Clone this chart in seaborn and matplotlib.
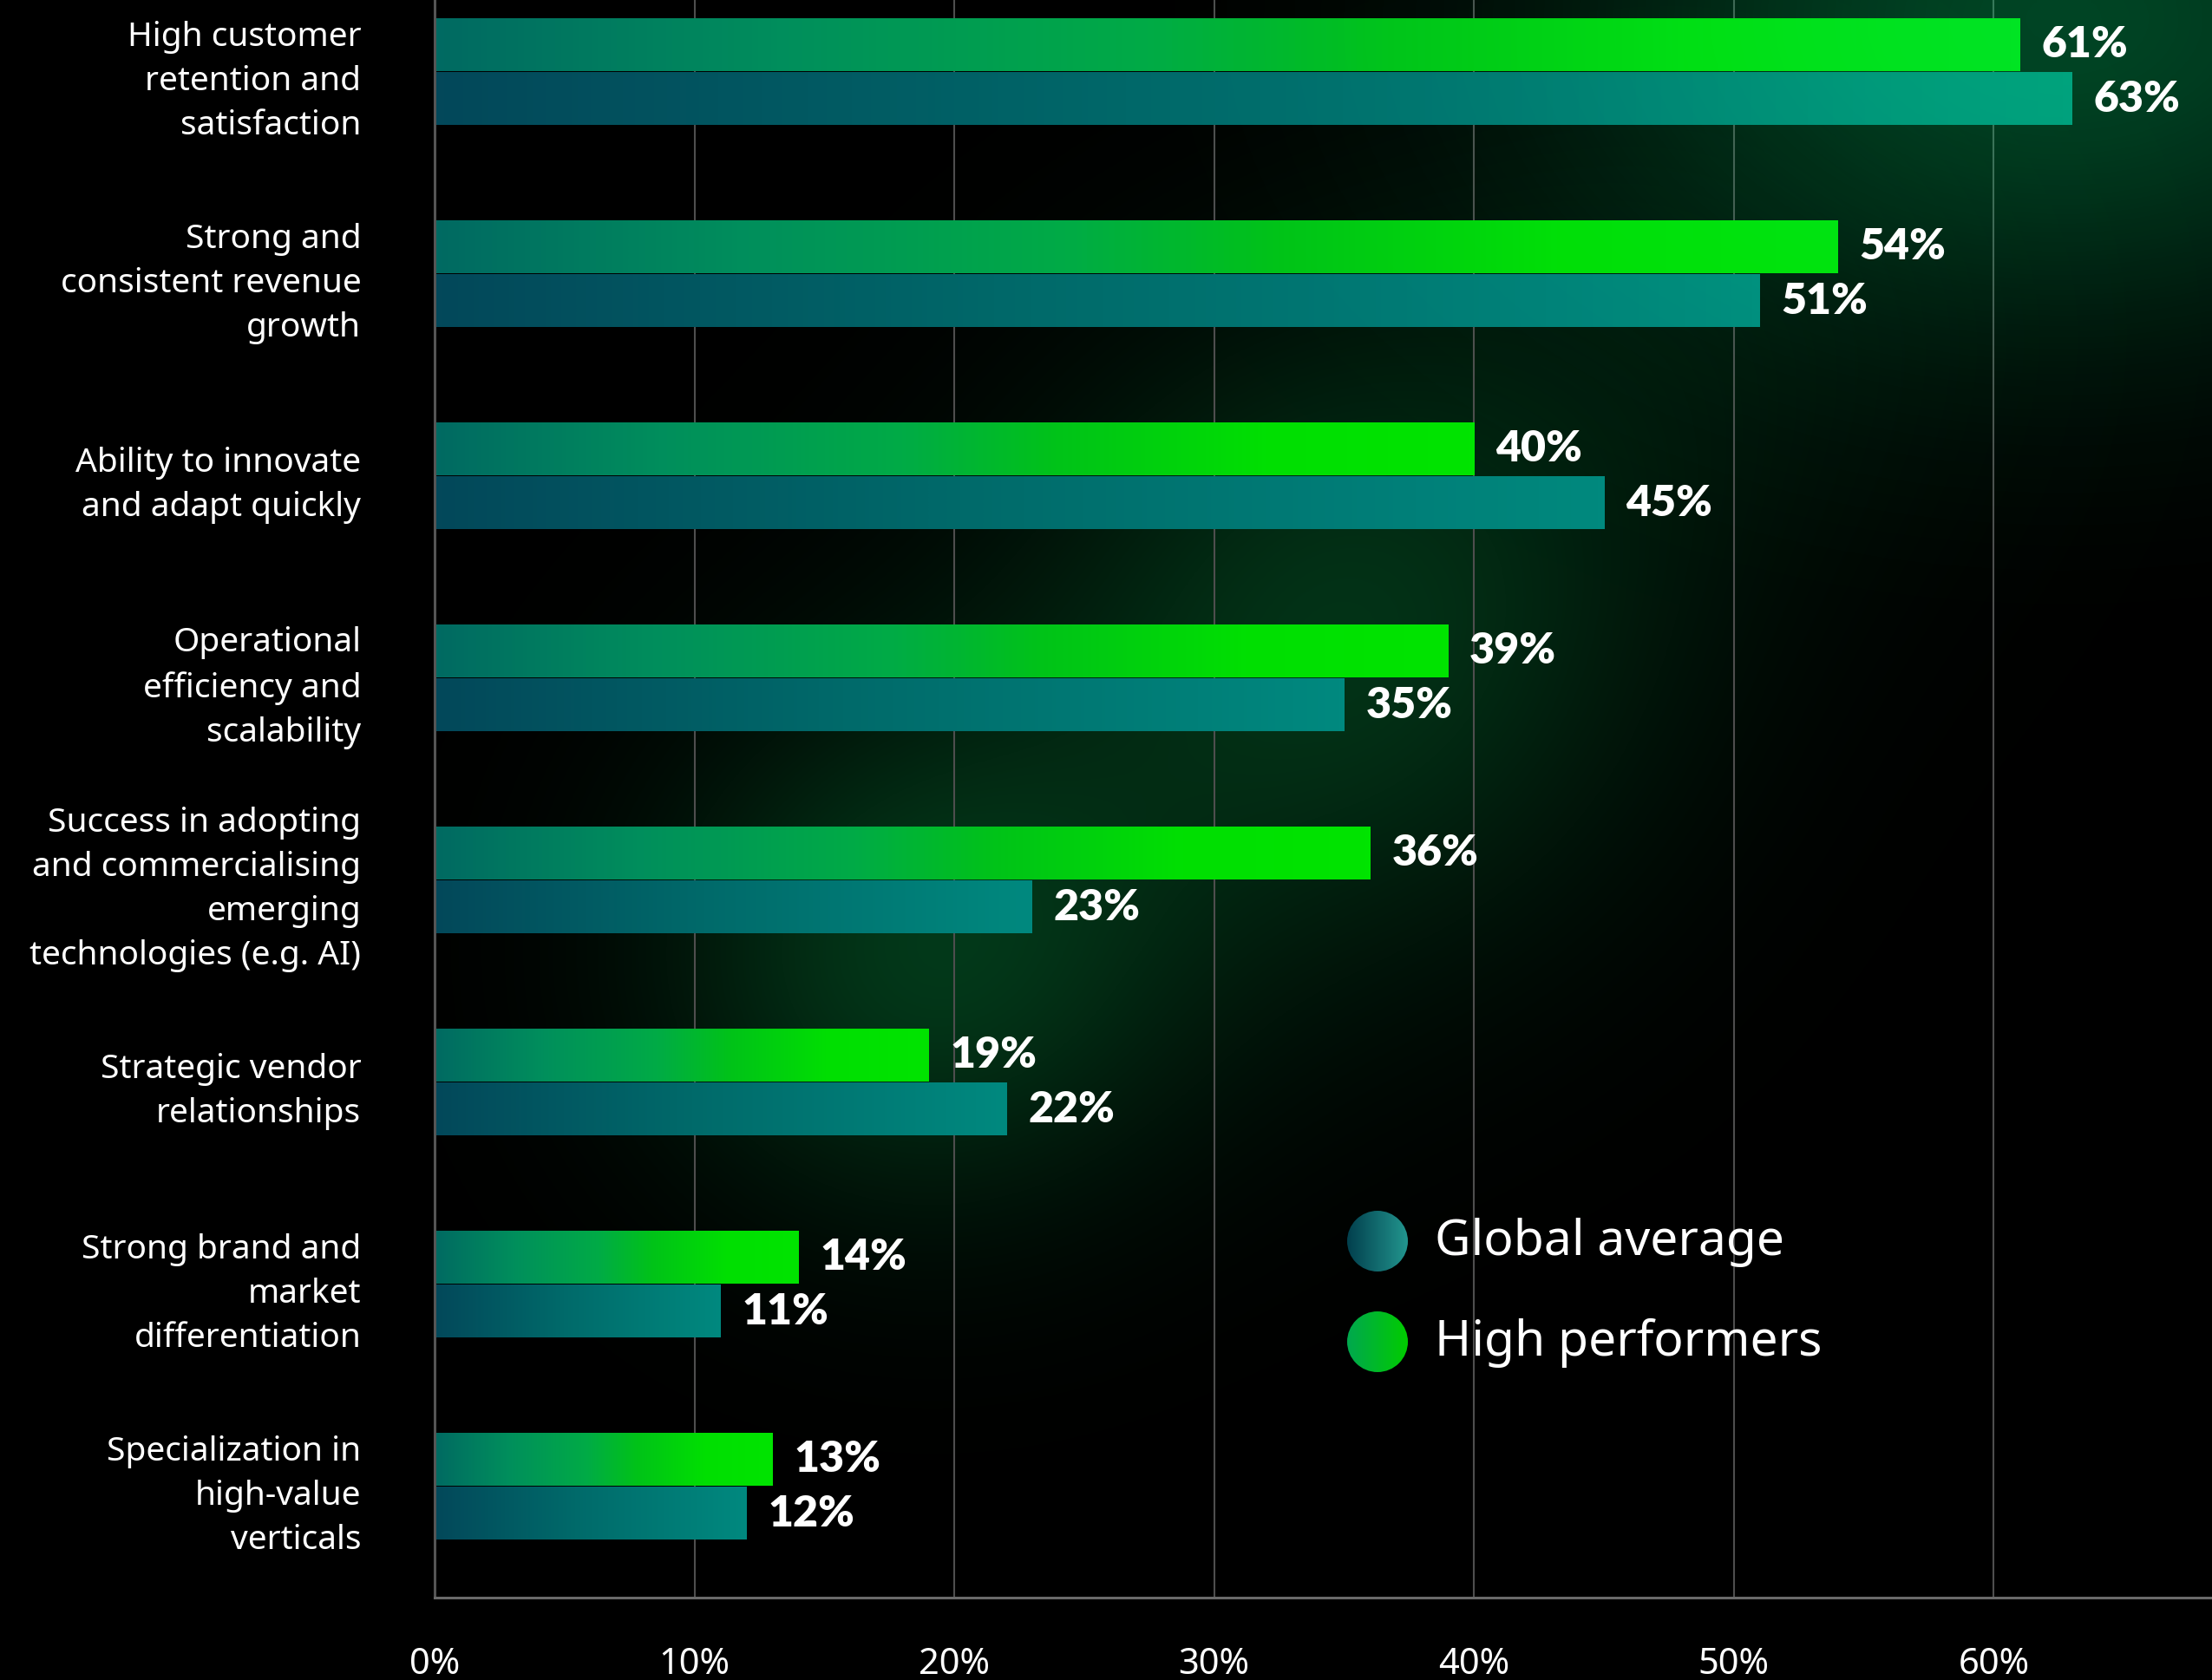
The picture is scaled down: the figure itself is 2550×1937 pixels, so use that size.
import numpy as np
import pandas as pd
import matplotlib
matplotlib.use("Agg")
import matplotlib.pyplot as plt
import seaborn as sns
from matplotlib.colors import LinearSegmentedColormap
from matplotlib.patches import Circle

# ---- data -------------------------------------------------------------
categories = [
    "High customer\nretention and\nsatisfaction",
    "Strong and\nconsistent revenue\ngrowth",
    "Ability to innovate\nand adapt quickly",
    "Operational\nefficiency and\nscalability",
    "Success in adopting\nand commercialising\nemerging\ntechnologies (e.g. AI)",
    "Strategic vendor\nrelationships",
    "Strong brand and\nmarket\ndifferentiation",
    "Specialization in\nhigh-value\nverticals",
]
high_performers = [61, 54, 40, 39, 36, 19, 14, 13]
global_average = [63, 51, 45, 35, 23, 22, 11, 12]
series_names = ["High performers", "Global average"]
x_ticks = [0, 10, 20, 30, 40, 50, 60]
x_tick_labels = [f"{t}%" for t in x_ticks]

df = pd.DataFrame({
    "category": categories * 2,
    "share": high_performers + global_average,
    "series": [series_names[0]] * len(categories) + [series_names[1]] * len(categories),
})

# ---- style ------------------------------------------------------------
sns.set_style("dark")
plt.rcParams["font.family"] = ["Noto Sans", "DejaVu Sans"]
plt.rcParams["axes.unicode_minus"] = False

W, H, DPI = 2550, 1937, 100
fig = plt.figure(figsize=(W / DPI, H / DPI), dpi=DPI, facecolor="black")

ax_left, ax_bottom_px = 501, 1842
ax = fig.add_axes([ax_left / W, (H - ax_bottom_px) / H, 1 - ax_left / W, ax_bottom_px / H])
ax.set_facecolor("black")

green_cmap = LinearSegmentedColormap.from_list(
    "hp", [(0.0, "#006a62"), (0.22, "#008f5c"), (0.45, "#00ab46"),
           (0.6, "#00c318"), (0.8, "#00df02"), (1.0, "#00e400")])
teal_cmap = LinearSegmentedColormap.from_list(
    "ga", [(0.0, "#03485a"), (0.45, "#006a6a"), (1.0, "#00897f")])

sns.barplot(data=df, x="share", y="category", hue="series", order=categories,
            hue_order=series_names, orient="h", ax=ax, width=0.535, gap=0.03,
            palette=["#00c318", "#00897f"], saturation=1, legend=False,
            err_kws={"linewidth": 0})

XMAX = 68.4
YLIM = (7.55, -0.356)

# gradient fill for every bar, drawn inside the bar rectangle
grad = np.linspace(0, 1, 256)[None, :]
for container, cmap in zip(ax.containers, [green_cmap, teal_cmap]):
    for bar in container:
        x0, y0 = bar.get_x(), bar.get_y()
        w, h = bar.get_width(), bar.get_height()
        ax.imshow(grad, cmap=cmap, extent=(x0, x0 + w, y0 + h, y0),
                  aspect="auto", zorder=2, interpolation="bicubic")
        bar.set_visible(False)

# ---- glow -------------------------------------------------------------
gx, gy = np.meshgrid(np.arange(ax_left, W, 4), np.arange(0, ax_bottom_px, 4))


def blob(cx, cy, sx, sy):
    return np.exp(-(((gx - cx) / sx) ** 2 + ((gy - cy) / sy) ** 2) / 2)


soft = (0.17 * blob(1560, 720, 250, 250) + 0.05 * blob(1950, 380, 260, 240)
        + 0.19 * blob(1060, 1110, 210, 200) + 0.04 * blob(1300, 920, 300, 260))
soft = np.clip(soft, 0, 1)
bg = np.zeros(gx.shape + (3,))
bg[..., 0] = soft * 0.05
bg[..., 1] = soft * 1.0
bg[..., 2] = soft * 0.45
ax.imshow(bg, extent=(0, XMAX, YLIM[0], YLIM[1]), aspect="auto", zorder=0.1,
          interpolation="bilinear")

top = blob(2380, 20, 380, 250)
ov = np.zeros(gx.shape + (4,))
ov[..., 1] = 0.9
ov[..., 2] = 0.48
ov[..., 3] = 0.30 * top
ax.imshow(ov, extent=(0, XMAX, YLIM[0], YLIM[1]), aspect="auto", zorder=3,
          interpolation="bilinear")

# ---- axes -------------------------------------------------------------
ax.set_xlim(0, XMAX)
ax.set_ylim(*YLIM)
ax.set_axisbelow(True)
ax.grid(axis="x", color="#4e4e4e", linewidth=1.5)
ax.grid(axis="y", visible=False)
ax.set_xlabel("")
ax.set_ylabel("")
ax.set_xticks(x_ticks)
ax.set_xticklabels(x_tick_labels, fontsize=30, color="white")
ax.tick_params(axis="x", length=0, pad=40)
ax.tick_params(axis="y", length=0, pad=61)
for lbl in ax.get_yticklabels():
    lbl.set_fontsize(28)
    lbl.set_color("white")
    lbl.set_horizontalalignment("right")
    lbl.set_multialignment("right")
    lbl.set_linespacing(1.45)

for side in ["top", "right"]:
    ax.spines[side].set_visible(False)
ax.spines["left"].set_color("#555555")
ax.spines["left"].set_linewidth(2.2)
ax.spines["bottom"].set_color("#6a6a6a")
ax.spines["bottom"].set_linewidth(2.2)

for container, values in zip(ax.containers, [high_performers, global_average]):
    ax.bar_label(container, labels=[f"{v}%" for v in values], padding=18,
                 fontsize=36, fontweight="heavy", color="white",
                 family=["Lato", "DejaVu Sans"], zorder=5)

# ---- legend -------------------------------------------------------------
lg = fig.add_axes([0, 0, 1, 1], zorder=10)
lg.patch.set_alpha(0)
lg.axis("off")
legend_cmaps = [
    LinearSegmentedColormap.from_list("lga", ["#02404e", "#22958e"]),
    LinearSegmentedColormap.from_list("lhp", ["#00a84e", "#00cc00"]),
]
legend_names = [series_names[1], series_names[0]]
cx, r = 1588, 35
for i, (name, cmap) in enumerate(zip(legend_names, legend_cmaps)):
    cy = 1431 + i * 116
    im = lg.imshow(np.linspace(0, 1, 64)[None, :], cmap=cmap,
                   extent=(cx - r, cx + r, cy + r, cy - r), aspect="auto")
    im.set_clip_path(Circle((cx, cy), r, transform=lg.transData))
    lg.text(1654, cy + 16, name, fontsize=41, color="white", va="baseline")
lg.set_xlim(0, W)
lg.set_ylim(H, 0)

fig.savefig("out.png", dpi=DPI, facecolor="black")
